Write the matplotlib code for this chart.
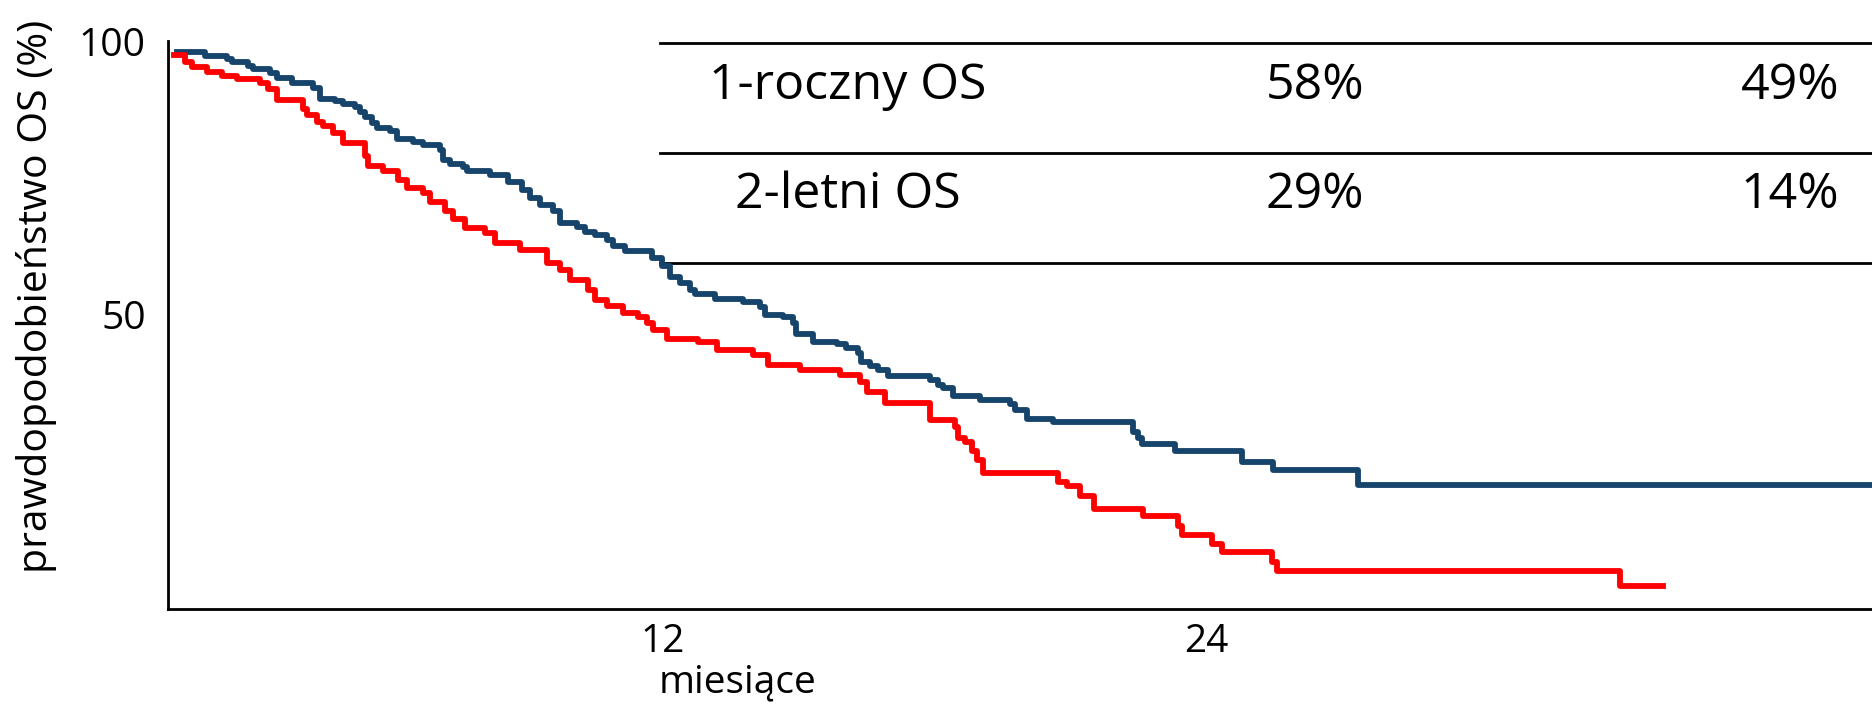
import matplotlib
matplotlib.use("Agg")
import matplotlib.pyplot as plt
from matplotlib.lines import Line2D

plt.rcParams['font.family'] = ['Open Sans', 'DejaVu Sans']

# Kaplan-Meier OS curves (months, % alive)
blue_t = [1.26, 1.88, 2.36, 2.48, 2.83, 2.94, 3.31, 3.47, 3.80, 4.27, 4.42, 4.75,
          4.93, 5.19, 5.30, 5.41, 5.57, 5.68, 5.97, 6.12, 6.48, 6.70, 7.07, 7.14,
          7.29, 7.58, 7.67, 8.18, 8.57, 8.88, 9.06, 9.28, 9.57, 9.72, 10.10, 10.28,
          10.50, 10.76, 10.90, 11.16, 11.76, 11.98, 12.15, 12.38, 12.60, 12.71,
          13.15, 13.77, 14.14, 14.25, 14.65, 14.87, 14.94, 15.32, 15.85, 16.04,
          16.31, 16.38, 16.57, 16.75, 16.97, 17.90, 18.08, 18.19, 18.41, 19.01,
          19.67, 19.78, 20.04, 20.62, 22.39, 22.50, 22.59, 23.31, 24.80, 25.48,
          27.36, 38.72]
blue_s = [98.0, 97.3, 96.8, 96.1, 95.5, 94.8, 94.2, 93.3, 92.4, 91.5, 89.5, 89.1,
          88.5, 87.9, 87.1, 86.1, 85.0, 84.1, 83.6, 82.2, 81.6, 81.0, 80.1, 78.3,
          77.6, 77.0, 76.2, 75.5, 74.3, 72.8, 71.3, 70.1, 68.9, 66.7, 66.0, 65.2,
          64.6, 63.7, 62.6, 61.6, 60.4, 59.0, 57.0, 55.9, 54.6, 53.8,
          52.9, 52.4, 51.5, 50.0, 49.6, 48.5, 46.5, 45.0, 44.7, 43.9,
          43.0, 41.4, 40.7, 40.0, 38.9, 38.2, 37.3, 36.7, 35.2, 34.5,
          33.8, 32.7, 31.1, 30.4, 28.7, 27.5, 26.4, 25.2, 23.2, 21.8,
          18.9, 18.9]

red_t = [1.19, 1.44, 1.59, 1.92, 2.25, 2.59, 3.09, 3.27, 3.47, 4.04, 4.13, 4.35,
         4.49, 4.71, 4.93, 5.41, 5.48, 5.81, 6.14, 6.34, 6.70, 6.85, 7.18, 7.36,
         7.62, 8.07, 8.29, 8.84, 9.44, 9.72, 9.94, 10.34, 10.50, 10.76, 11.12,
         11.45, 11.65, 11.78, 12.09, 12.77, 13.19, 13.99, 14.32, 15.03, 15.91,
         16.35, 16.51, 16.91, 17.90, 18.45, 18.52, 18.67, 18.83, 18.94, 19.07,
         20.73, 20.93, 21.22, 21.52, 22.61, 23.38, 23.47, 24.13, 24.35, 25.46,
         25.57, 33.15, 34.10]
red_s = [97.4, 96.2, 95.2, 94.4, 93.7, 93.1, 92.3, 91.2, 89.2, 87.5, 86.5, 85.3,
         84.4, 83.2, 81.3, 79.0, 77.1, 76.2, 74.6, 73.1, 72.2, 70.7, 68.9, 67.6,
         65.8, 64.9, 63.1, 61.9, 59.4, 58.2, 56.3, 54.6, 52.7, 51.6, 50.3,
         49.7, 48.5, 47.3, 45.7, 45.1, 43.6, 42.7, 40.9, 40.0, 39.1,
         37.8, 36.0, 33.9, 30.8, 29.6, 27.5, 26.9, 25.1, 23.5, 21.1,
         19.6, 18.8, 17.0, 14.6, 13.3, 11.5, 9.9, 8.3, 6.8, 5.0,
         3.2, 0.55, 0.55]

x_ticks = [12, 24]
y_ticks = [50, 100]

rows = ["1-roczny OS", "2-letni OS"]
col_blue = ["58%", "29%"]
col_red = ["49%", "14%"]

W, H = 1872, 707
fig = plt.figure(figsize=(W / 100, H / 100), dpi=100)
ax = fig.add_axes([168 / W, 1 - 609 / H, 1 - 168 / W, (609 - 41) / H])

ax.step(blue_t, blue_s, where='post', color='#17446A', lw=4.2, zorder=3)
ax.step(red_t, red_s, where='post', color='#FF0000', lw=4.2, zorder=3)

ax.set_xlim(1.06, 38.72)
ax.set_ylim(-3.65, 100)
ax.set_xticks(x_ticks)
ax.set_yticks(y_ticks)
ax.tick_params(length=0, labelsize=28)
ax.tick_params(axis='x', pad=10)
ax.tick_params(axis='y', pad=16)
for s in ['top', 'right']:
    ax.spines[s].set_visible(False)
for s in ['left', 'bottom']:
    ax.spines[s].set_linewidth(2.0)

# table with 1- and 2-year OS
for yy in [42.5, 152.5, 262.5]:
    ax.add_line(Line2D([660 / W, 1.0], [1 - yy / H, 1 - yy / H], transform=fig.transFigure,
                       color='black', lw=2.0, clip_on=False, zorder=1))
for i, (r, b, c) in enumerate(zip(rows, col_blue, col_red)):
    yc = 1 - (86 + i * 109) / H
    fig.text(848 / W, yc, r, fontsize=36, ha='center', va='center')
    fig.text(1315 / W, yc, b, fontsize=36, ha='center', va='center')
    fig.text(1790 / W, yc, c, fontsize=36, ha='center', va='center')

fig.text(37 / W, 1 - 296 / H, "prawdopodobieństwo OS (%)", rotation=90,
         fontsize=29.5, ha='center', va='center')
fig.text(737 / W, 1 - 692 / H, "miesiące", fontsize=28, ha='center', va='baseline')

fig.savefig('out.png', dpi=100)
